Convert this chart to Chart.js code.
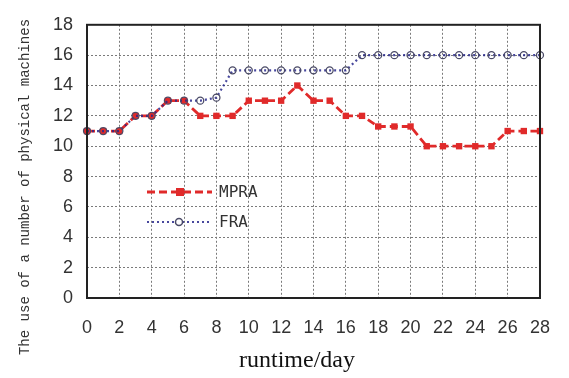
<!DOCTYPE html>
<html>
<head>
<meta charset="utf-8">
<script src="https://cdn.jsdelivr.net/npm/chart.js@4"></script>
<style>
  html, body { margin: 0; padding: 0; background: #fff; }
  #machineChart { display: block; }
</style>
</head>
<body>
<canvas id="machineChart" width="569" height="378"></canvas>
<script>
// Chart data
var days = [0, 1, 2, 3, 4, 5, 6, 7, 8, 9, 10, 11, 12, 13, 14, 15, 16, 17, 18, 19, 20, 21, 22, 23, 24, 25, 26, 27, 28];
var mpraValues = [11, 11, 11, 12, 12, 13, 13, 12, 12, 12, 13, 13, 13, 14, 13, 13, 12, 12, 11.3, 11.3, 11.3, 10, 10, 10, 10, 10, 11, 11, 11];
var fraValues = [11, 11, 11, 12, 12, 13, 13, 13, 13.2, 15, 15, 15, 15, 15, 15, 15, 15, 16, 16, 16, 16, 16, 16, 16, 16, 16, 16, 16, 16];
var xTicks = [0, 2, 4, 6, 8, 10, 12, 14, 16, 18, 20, 22, 24, 26, 28];
var yTicks = [0, 2, 4, 6, 8, 10, 12, 14, 16, 18];

var seriesNames = ['MPRA', 'FRA'];
var xTitle = 'runtime/day';
var yTitle = 'The use of a number of physical machines';

function toPoints(values) {
  return days.map(function (d, i) { return { x: d, y: values[i] }; });
}

// Frame, axis titles and the little legend inside the plot
var decorPlugin = {
  id: 'decor',
  afterDatasetsDraw: function (chart) {
    var ctx = chart.ctx;
    var a = chart.chartArea;
    ctx.save();

    // black frame round the plot
    ctx.strokeStyle = '#222';
    ctx.lineWidth = 2;
    ctx.strokeRect(a.left, a.top, a.right - a.left, a.bottom - a.top);

    // legend, MPRA first
    var rows = [192, 222];
    seriesNames.forEach(function (name, i) {
      var ds = chart.data.datasets.filter(function (d) { return d.label === name; })[0];
      var y = rows[i];
      ctx.strokeStyle = ds.borderColor;
      ctx.lineWidth = ds.borderWidth;
      ctx.setLineDash(ds.borderDash);
      ctx.beginPath();
      ctx.moveTo(147, y);
      ctx.lineTo(212, y);
      ctx.stroke();
      ctx.setLineDash([]);
      if (ds.pointStyle === 'rect') {
        ctx.fillStyle = ds.pointBackgroundColor;
        ctx.fillRect(176, y - 4, 8, 8);
      } else {
        ctx.fillStyle = '#fff';
        ctx.strokeStyle = ds.pointBorderColor;
        ctx.lineWidth = 1.5;
        ctx.beginPath();
        ctx.arc(179, y, 3.5, 0, Math.PI * 2);
        ctx.fill();
        ctx.stroke();
      }
      ctx.fillStyle = '#333';
      ctx.font = '16px "DejaVu Sans Mono"';
      ctx.textAlign = 'left';
      ctx.textBaseline = 'middle';
      ctx.fillText(ds.label, 219, y + 1);
    });

    // x axis title
    ctx.fillStyle = '#111';
    ctx.font = '24px "Liberation Serif"';
    ctx.textAlign = 'center';
    ctx.textBaseline = 'middle';
    ctx.fillText(xTitle, 297, 361);

    // y axis title
    ctx.translate(25, 187);
    ctx.rotate(-Math.PI / 2);
    ctx.font = '14px "Liberation Mono"';
    ctx.fillStyle = '#333';
    ctx.fillText(yTitle, 0, 0);

    ctx.restore();
  }
};

var ctx = document.getElementById('machineChart').getContext('2d');

var myChart = new Chart(ctx, {
  type: 'line',
  data: {
    datasets: [{
      label: seriesNames[1],
      data: toPoints(fraValues),
      borderColor: 'rgba(40, 40, 140, 0.85)',
      borderWidth: 2.2,
      borderDash: [2, 3],
      pointStyle: 'circle',
      pointRadius: 3.5,
      pointBorderWidth: 1.3,
      pointBorderColor: '#4a4a66',
      pointBackgroundColor: 'rgba(255,255,255,0)',
      tension: 0,
      clip: false
    }, {
      label: seriesNames[0],
      data: toPoints(mpraValues),
      borderColor: '#e02a2a',
      borderWidth: 2.8,
      borderDash: [8, 4],
      pointStyle: 'rect',
      pointRadius: 4.5,
      pointBorderWidth: 0,
      pointBorderColor: '#e02a2a',
      pointBackgroundColor: '#e02a2a',
      tension: 0,
      clip: false
    }]
  },
  options: {
    responsive: false,
    animation: false,
    devicePixelRatio: 1,
    layout: { padding: { left: 0, top: 13, right: 16, bottom: 0 } },
    plugins: {
      legend: { display: false },
      tooltip: { enabled: false }
    },
    scales: {
      x: {
        type: 'linear',
        min: 0,
        max: 28,
        afterBuildTicks: function (scale) {
          scale.ticks = xTicks.map(function (v) { return { value: v }; });
        },
        afterFit: function (scale) { scale.height = 80; },
        grid: { color: '#7a7a7a', lineWidth: 1, drawTicks: false },
        border: { display: false, dash: [2, 2] },
        ticks: {
          padding: 19,
          color: '#333',
          font: { family: '"Liberation Sans", Arial', size: 18 },
          maxRotation: 0
        }
      },
      y: {
        min: 0,
        max: 18,
        afterBuildTicks: function (scale) {
          scale.ticks = yTicks.map(function (v) { return { value: v }; });
        },
        afterFit: function (scale) { scale.width = 87; },
        grid: { color: '#7a7a7a', lineWidth: 1, drawTicks: false },
        border: { display: false, dash: [2, 2] },
        ticks: {
          padding: 14,
          color: '#333',
          font: { family: '"Liberation Sans", Arial', size: 18 }
        }
      }
    }
  },
  plugins: [decorPlugin]
});
</script>
</body>
</html>
